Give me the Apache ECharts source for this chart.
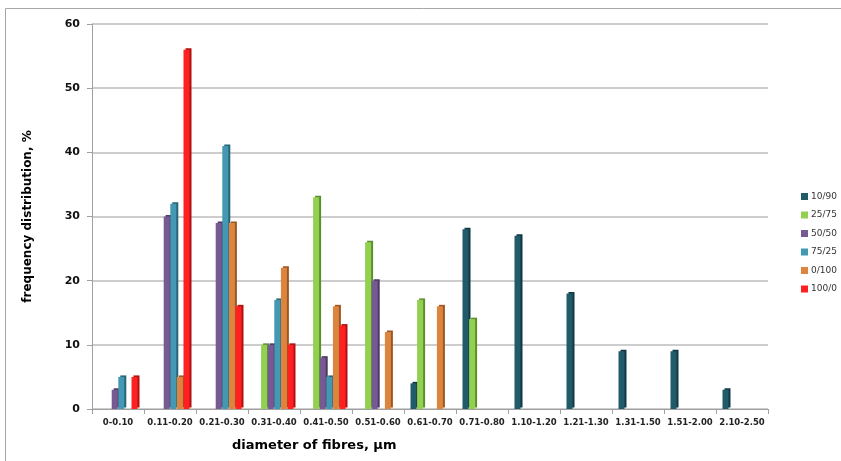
<!DOCTYPE html>
<html><head><meta charset="utf-8">
<script src="https://cdn.jsdelivr.net/npm/echarts@6/dist/echarts.min.js"></script>
<style>html,body{margin:0;padding:0;background:#fff}#c{width:841px;height:461px}</style>
</head><body><div id="c"></div>
<script>
const categories = ['0-0.10','0.11-0.20','0.21-0.30','0.31-0.40','0.41-0.50','0.51-0.60','0.61-0.70','0.71-0.80','1.10-1.20','1.21-1.30','1.31-1.50','1.51-2.00','2.10-2.50'];
const s10_90  = [0,0,0,0,0,0,4,28,27,18,9,9,3];
const s25_75  = [0,0,0,10,33,26,17,14,0,0,0,0,0];
const s50_50  = [3,30,29,10,8,20,0,0,0,0,0,0,0];
const s75_25  = [5,32,41,17,5,0,0,0,0,0,0,0,0];
const s0_100  = [0,5,29,22,16,12,16,0,0,0,0,0,0];
const s100_0  = [5,56,16,10,13,0,0,0,0,0,0,0,0];
const yTicks = [0,10,20,30,40,50,60];

const seriesDefs = [
  {name:'10/90', data:s10_90, color:'#215B69', shade:'#123843'},
  {name:'25/75', data:s25_75, color:'#92D050', shade:'#5E8F2E'},
  {name:'50/50', data:s50_50, color:'#775A93', shade:'#4C3861'},
  {name:'75/25', data:s75_25, color:'#4399B3', shade:'#276478'},
  {name:'0/100', data:s0_100, color:'#DD853E', shade:'#9C5624'},
  {name:'100/0', data:s100_0, color:'#FF2121', shade:'#B01010'}
];

const chart = echarts.init(document.getElementById('c'));
chart.setOption({
  animation:false,
  backgroundColor:'#fff',
  graphic:[
    {type:'rect', shape:{x:5.5,y:8.5,width:900,height:500}, style:{fill:'none', stroke:'#A6A6A6', lineWidth:1}, z:-10},
    {type:'text', left:232, top:439, style:{text:'diameter of fibres, \u03bcm', font:'bold 13px "DejaVu Sans", sans-serif', fill:'#000'}}
  ],
  legend:{
    orient:'vertical', left:796, top:187, itemWidth:7, itemHeight:7, itemGap:9.5,
    icon:'rect',
    textStyle:{fontSize:9, color:'#333', fontFamily:'DejaVu Sans', padding:[0,0,0,-2]},
    data:seriesDefs.map(s=>s.name)
  },
  grid:{left:92, right:73, top:24, bottom:52},
  xAxis:{
    type:'category', data:categories,
    axisLine:{lineStyle:{color:'#A0A0A0'}},
    axisTick:{show:true, alignWithLabel:false, lineStyle:{color:'#A0A0A0'}},
    axisLabel:{fontSize:8.5, fontWeight:'bold', color:'#222', fontFamily:'DejaVu Sans', interval:0, margin:9}
  },
  yAxis:{
    type:'value', min:0, max:60, interval:10,
    name:'frequency distribution, %', nameLocation:'middle', nameGap:58, nameRotate:90,
    nameTextStyle:{fontSize:12, fontWeight:'bold', color:'#000', fontFamily:'DejaVu Sans'},
    axisLine:{show:true, lineStyle:{color:'#A0A0A0'}},
    axisTick:{show:true, lineStyle:{color:'#A0A0A0'}, length:5},
    axisLabel:{fontSize:11, fontWeight:'bold', color:'#111', fontFamily:'DejaVu Sans', margin:12,
      formatter:v=>yTicks.includes(v)?String(v):''},
    splitLine:{lineStyle:{color:'#BDBDBD', width:1.5}}
  },
  series: seriesDefs.map(s=>({
    name:s.name, type:'bar', data:s.data, barWidth:6, barGap:'10%', barCategoryGap:'18%',
    itemStyle:{color:s.color, shadowColor:s.shade, shadowOffsetX:2, shadowOffsetY:-1.5, shadowBlur:0}
  }))
});
</script></body></html>
